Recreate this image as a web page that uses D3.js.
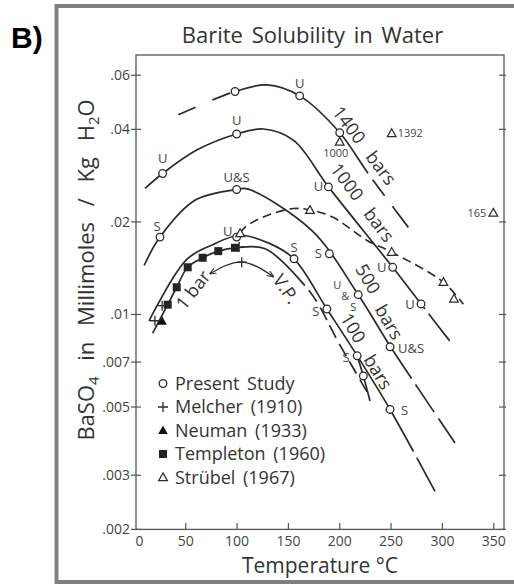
<!DOCTYPE html>
<html><head><meta charset="utf-8">
<script src="https://cdn.jsdelivr.net/npm/d3@7"></script>
<style>body{margin:0;background:#fff}</style>
</head><body><svg id="c" width="514" height="584"></svg>
<script>
// ---------------- data ----------------
const xTickValues = [0, 50, 100, 150, 200, 250, 300, 350];
const xTickLabels = ["0", "50", "100", "150", "200", "250", "300", "350"];
const yTickValues = [0.06, 0.04, 0.02, 0.01, 0.007, 0.005, 0.003, 0.002];
const yTickLabels = [".06", ".04", ".02", ".01", ".007", ".005", ".003", ".002"];

// curves: [temperature °C, BaSO4 mmol/kg]
const curve1400 = [[42.8,0.0446],[98,0.0531],[129,0.0558],[161,0.0514],[200,0.039],[227.5,0.0288],[266.8,0.0192]];
const curve1000 = [[10.3,0.0257],[27.5,0.02874],[60.7,0.03424],[99.6,0.03863],[125.6,0.0401],[154.8,0.0369],[189,0.026],[251.6,0.01424],[279.2,0.01082],[309.3,0.00803]];
const curve500  = [[9.5,0.01443],[24.9,0.01785],[59,0.02351],[99.6,0.02549],[110,0.0256],[172.7,0.01877],[218,0.0116],[249,0.0079],[312.3,0.00382]];
const curve100  = [[14.2,0.00954],[51,0.0151],[75,0.0168],[103,0.0181],[132,0.0170],[155.5,0.01517],[187.5,0.01042],[217,0.00734],[249,0.00491],[292.8,0.00266]];
const curve1bar = [[17.8,0.00869],[32.4,0.01076],[41.2,0.01226],[51.9,0.01424],[66.5,0.01529],[81.7,0.01607],[100,0.0165],[127.4,0.01636],[166,0.01242],[179,0.01082],[197,0.00832],[228,0.0055]];
const curveVP   = [[217,0.00734],[223,0.00631],[229.5,0.00523]];
const curveStrubel = [[103,0.0184],[108,0.01925],[125.6,0.02075],[154.8,0.0221],[171,0.0219],[193.5,0.0207],[226.6,0.01741],[250.6,0.01595],[301,0.01273],[320.4,0.0108]];
const arcVP = [[73.6,0.01356],[104.5,0.0148],[135.3,0.01328]];

// solid ranges (°C) of each curve; outside them the curve is dashed
const solidRanges = { c1400:[98,227.5], c1000:[10.3,283], c500:[9.5,270], c100:[14.2,271.7], c1bar:[17.8,166] };

// Present Study (open circles) with their U / S labels
const presentStudy = [
  [98,0.0531,""],[161,0.0514,"U"],[200,0.039,""],
  [27.5,0.02874,"U"],[99.6,0.03863,"U"],[189,0.026,"U"],[251.6,0.01424,"U"],[279.2,0.01082,"U"],
  [24.9,0.01785,"S"],[99.6,0.02549,"U&S"],[189.9,0.01576,"S"],[218,0.0116,""],[249,0.00785,"U&S"],
  [99.6,0.01785,"U"],[155.5,0.01517,"S"],[187.5,0.01042,"S"],[217,0.00734,"S"],[249,0.00491,"S"],
  [223,0.00631,""]
];
const melcher   = [[20,0.00954],[27,0.01068],[102,0.01656],[104.5,0.01479]];
const neuman    = [[27,0.00951]];
const templeton = [[32.4,0.01076],[41.2,0.01226],[51.9,0.01424],[66.5,0.01529],[81.7,0.01607],[98,0.01648]];
const strubel   = [[103,0.01835,""],[171,0.02183,""],[200,0.0364,"1000"],[250.6,0.0388,"1392"],[250.6,0.01595,""],[301,0.01273,""],[311.3,0.01124,""],[349.6,0.02138,"165"]];

const legendLabels = ["Present  Study", "Melcher  (1910)", "Neuman  (1933)", "Templeton  (1960)", "Strübel  (1967)"];
const curveLabels = ["1400", "bars", "1000", "bars", "500", "bars", "100", "bars", "1 bar", "V.P."];

// ---------------- layout ----------------
const svg = d3.select("#c");
const FONT = "'Open Sans','DejaVu Sans',sans-serif";
const INK = "#2a2a2a";
const x = d3.scaleLinear().domain([0, 360]).range([134.4, 504]);
const y = d3.scaleLog().domain([0.002, 0.0698]).range([529.4, 55]);
const P = d => [x(d[0]), y(d[1])];

// outer grey border
svg.append("rect").attr("x",56.5).attr("y",6).attr("width",470).attr("height",576)
  .attr("fill","none").attr("stroke","#808080").attr("stroke-width",4);

svg.append("text").attr("x",11).attr("y",48).text("B)")
  .attr("font-family","'Liberation Sans',Arial,sans-serif").attr("font-weight","bold")
  .attr("font-size",30).attr("fill","#000");

svg.append("text").attr("x",312.5).attr("y",43).attr("text-anchor","middle")
  .text("Barite  Solubility  in  Water").attr("word-spacing","3px")
  .attr("font-family",FONT).attr("font-size",22).attr("fill","#333");

// plot frame
svg.append("rect").attr("x",136).attr("y",55).attr("width",368).attr("height",474.4)
  .attr("fill","none").attr("stroke","#555").attr("stroke-width",1.3);

// y ticks
const gy = svg.append("g");
yTickValues.forEach((v,i) => {
  gy.append("line").attr("x1",131).attr("x2",141).attr("y1",y(v)).attr("y2",y(v)).attr("stroke","#555").attr("stroke-width",1.2);
  gy.append("line").attr("x1",499).attr("x2",506).attr("y1",y(v)).attr("y2",y(v)).attr("stroke","#555").attr("stroke-width",1.2);
  gy.append("text").attr("x",130).attr("y",y(v)).attr("dy","0.35em").attr("text-anchor","end")
    .text(yTickLabels[i]).attr("font-family",FONT).attr("font-size",14).attr("fill","#444");
});
// x ticks
const gx = svg.append("g");
xTickValues.forEach((t,i) => {
  if (t > 0) gx.append("line").attr("x1",x(t)).attr("x2",x(t)).attr("y1",529.4).attr("y2",523).attr("stroke","#555").attr("stroke-width",1.2);
  gx.append("text").attr("x", t === 0 ? x(t)+5 : x(t)).attr("y",546).attr("text-anchor","middle")
    .text(xTickLabels[i]).attr("font-family",FONT).attr("font-size",14).attr("fill","#444");
});

svg.append("text").attr("x",320).attr("y",573).attr("text-anchor","middle")
  .text("Temperature  °C").attr("font-family",FONT).attr("font-size",21).attr("fill","#333");

const yt = svg.append("text").attr("transform","translate(94,270) rotate(-90)").attr("text-anchor","middle")
  .attr("font-family",FONT).attr("font-size",22).attr("fill","#333").attr("word-spacing","10px");
yt.append("tspan").text("BaSO");
yt.append("tspan").text("4").attr("font-size",15).attr("dy",5);
yt.append("tspan").text(" in  Millimoles  /  Kg  H").attr("dy",-5);
yt.append("tspan").text("2").attr("font-size",15).attr("dy",5);
yt.append("tspan").text("O").attr("dy",-5);

// ---------------- curves ----------------
const line = d3.line().x(d => x(d[0])).y(d => y(d[1])).curve(d3.curveCatmullRom.alpha(0.5));

function lengthAtX(node, xt) {
  let lo = 0, hi = node.getTotalLength();
  for (let k = 0; k < 40; k++) {
    const mid = (lo + hi) / 2;
    if (node.getPointAtLength(mid).x < xt) lo = mid; else hi = mid;
  }
  return (lo + hi) / 2;
}
// leftPat starts with a dash; rightPat starts with a gap
function drawCurve(data, range, leftPat, rightPat, width) {
  const p = svg.append("path").attr("d", line(data)).attr("fill","none")
    .attr("stroke", INK).attr("stroke-width", width || 1.7);
  const node = p.node(), L = node.getTotalLength();
  const Ls = range ? lengthAtX(node, x(range[0])) : 0;
  const Le = range ? lengthAtX(node, x(range[1])) : 0;
  const segs = [];
  let pos = 0, i = 0;
  if (Ls > 0.5 && leftPat) {
    while (pos < Ls - 0.01) { const len = Math.min(leftPat[i % leftPat.length], Ls - pos); segs.push([i % 2 === 0, len]); pos += len; i++; }
  }
  segs.push([true, Math.max(0, Le - Ls)]); pos = Le; i = 0;
  if (Le < L - 0.5 && rightPat) {
    while (pos < L - 0.01) { const len = Math.min(rightPat[i % rightPat.length], L - pos); segs.push([i % 2 === 1, len]); pos += len; i++; }
  }
  const arr = [];
  let cur = true, acc = 0;
  segs.forEach(([on, len]) => {
    if (on === cur) acc += len; else { arr.push(acc); cur = on; acc = len; }
  });
  arr.push(acc);
  if (cur) arr.push(2000);
  p.attr("stroke-dasharray", arr.map(v => v.toFixed(2)).join(","));
  return p;
}

drawCurve(curve1400, solidRanges.c1400, [19,18], [8,20,13,40]);
drawCurve(curve1000, solidRanges.c1000, null, [6,34]);
drawCurve(curve500, solidRanges.c500, null, [7,33,8,40]);
drawCurve(curve100, solidRanges.c100, null, [7,48]);
drawCurve(curve1bar, solidRanges.c1bar, null, [6,14,7,14]);
svg.append("path").attr("d", d3.line().x(d=>x(d[0])).y(d=>y(d[1])).curve(d3.curveMonotoneY)(curveVP))
  .attr("fill","none").attr("stroke",INK).attr("stroke-width",1.7);
svg.append("path").attr("d", line(curveStrubel)).attr("fill","none").attr("stroke",INK)
  .attr("stroke-width",1.6).attr("stroke-dasharray","9,5");

// arrow arc
const defs = svg.append("defs");
defs.append("marker").attr("id","arr").attr("viewBox","0 0 10 10").attr("refX",9).attr("refY",5)
  .attr("markerWidth",7).attr("markerHeight",7).attr("orient","auto-start-reverse").attr("markerUnits","userSpaceOnUse")
  .append("path").attr("d","M0,1 L10,5 L0,9").attr("fill","none").attr("stroke",INK).attr("stroke-width",1.5);
svg.append("path").attr("d", d3.line().x(d=>x(d[0])).y(d=>y(d[1])).curve(d3.curveNatural)(arcVP))
  .attr("fill","none").attr("stroke",INK).attr("stroke-width",1.3)
  .attr("marker-start","url(#arr)").attr("marker-end","url(#arr)");

// ---------------- markers ----------------
const triUp = r => `M0,${-r} L${r*0.95},${r*0.7} L${-r*0.95},${r*0.7} Z`;
function circleMark(g, cx, cy) {
  g.append("circle").attr("cx",cx).attr("cy",cy).attr("r",3.8).attr("fill","#fff").attr("stroke",INK).attr("stroke-width",1.3);
}
function plusMark(g, cx, cy) {
  g.append("path").attr("d",`M${cx-5},${cy}H${cx+5}M${cx},${cy-5}V${cy+5}`).attr("stroke",INK).attr("stroke-width",1.3);
}
function triFill(g, cx, cy) {
  g.append("path").attr("d",triUp(5)).attr("transform",`translate(${cx},${cy})`).attr("fill","#111");
}
function square(g, cx, cy) {
  g.append("rect").attr("x",cx-4).attr("y",cy-4).attr("width",8).attr("height",8).attr("fill","#222");
}
function triOpen(g, cx, cy) {
  g.append("path").attr("d",triUp(4.6)).attr("transform",`translate(${cx},${cy})`).attr("fill","#fff").attr("stroke",INK).attr("stroke-width",1.2);
}

const gm = svg.append("g");
const labelOffsets = [
  [0,0],[0,-12],[0,0],
  [0,-15],[0,-14],[-10,0],[-11,0],[-11,0],
  [-3,-11],[0,-12],[-11,0],[0,0],[8,2],
  [-9,-6],[0,-11],[-11,2],[-11,2],[11,1],
  [0,0]
];
const lblStyle = t => t.attr("font-family",FONT).attr("font-size",13).attr("fill","#444").attr("dy","0.35em");
templeton.forEach(d => square(gm, ...P(d)));
neuman.forEach(d => triFill(gm, ...P(d)));
melcher.forEach(d => plusMark(gm, ...P(d)));
presentStudy.forEach((d,i) => {
  const [cx, cy] = P(d);
  circleMark(gm, cx, cy);
  if (d[2]) {
    const [dx, dy] = labelOffsets[i];
    lblStyle(gm.append("text").attr("x",cx+dx).attr("y",cy+dy)
      .attr("text-anchor", dx > 5 ? "start" : "middle").text(d[2]));
  }
});
// stacked U & S beside the 500-bar point at 218 °C
(() => {
  const [cx, cy] = P(presentStudy[11]);
  [["U",-21,-10],["&",-13,1],["S",-5,12]].forEach(([s,dx,dy]) =>
    gm.append("text").attr("x",cx+dx).attr("y",cy+dy).attr("dy","0.35em").attr("text-anchor","middle")
      .attr("font-family",FONT).attr("font-size",11).attr("fill","#444").text(s));
})();
strubel.forEach(d => {
  const [cx, cy] = P(d);
  triOpen(gm, cx, cy);
  if (d[2]) {
    const t = gm.append("text").attr("font-family",FONT).attr("font-size",11).attr("fill","#444").attr("dy","0.35em").text(d[2]);
    if (d[2] === "1000") t.attr("x",cx-4).attr("y",cy+11).attr("text-anchor","middle");
    else if (d[2] === "1392") t.attr("x",cx+6).attr("y",cy).attr("text-anchor","start");
    else t.attr("x",cx-7).attr("y",cy).attr("text-anchor","end");
  }
});

// curve labels (number and "bars" placed separately along each curve)
const curveLabelPos = [[349,125,53],[381,168,53],[347,182,53],[379,225,53],[368,279,60],[389,322,60],[353,328,59],[378,372,59],[193,290,-52],[286,289,56]];
curveLabels.forEach((s,i) => {
  const [cx, cy, a] = curveLabelPos[i];
  svg.append("text").attr("transform",`translate(${cx},${cy}) rotate(${a})`).attr("text-anchor","middle")
    .attr("dy","0.35em").attr("font-family",FONT).attr("font-size",18).attr("fill","#333").text(s);
});

// legend
const legBase = [389.5, 413, 436.5, 460, 483.5];
const legMarks = [circleMark, plusMark, triFill, square, triOpen];
legendLabels.forEach((s,i) => {
  legMarks[i](svg, 163, legBase[i]-6);
  svg.append("text").attr("x",175).attr("y",legBase[i]).text(s).attr("word-spacing","3px")
    .attr("font-family",FONT).attr("font-size",18).attr("fill","#333");
});
</script></body></html>
